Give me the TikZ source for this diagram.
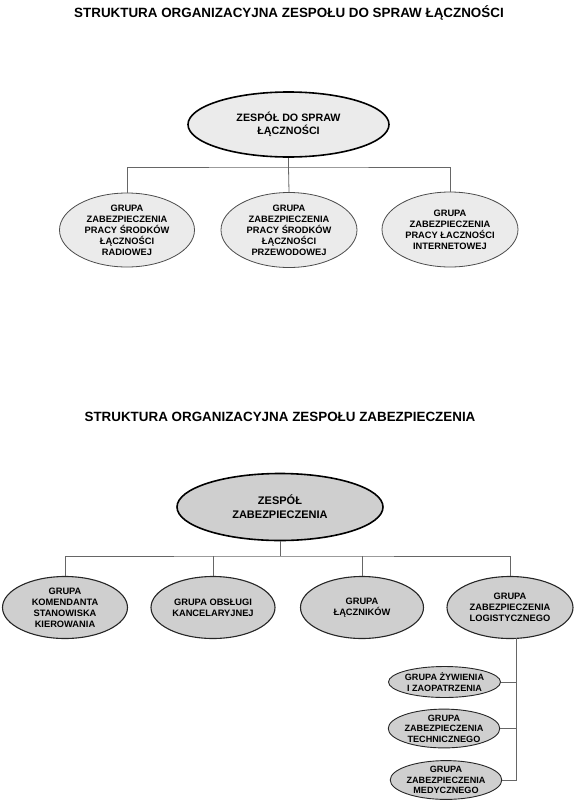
\documentclass[tikz,border=0pt]{standalone}
\usepackage{fontspec}
\setmainfont{Liberation Sans}
\usetikzlibrary{shapes.geometric}

\begin{document}
\begin{tikzpicture}[x=1pt,y=-1pt]
\tikzstyle{title}=[font=\fontsize{13.4}{15}\selectfont\bfseries]
\tikzstyle{light}=[ellipse,draw=black!70,line width=0.8pt,fill=black!8,inner sep=0pt,align=center,font=\fontsize{9.3}{11}\selectfont\bfseries]
\tikzstyle{lighttop}=[light,draw=black,line width=1.6pt,font=\fontsize{10.7}{12.5}\selectfont\bfseries]
\tikzstyle{dark}=[ellipse,draw=black!85,line width=1.1pt,fill=black!19,inner sep=0pt,align=center,font=\fontsize{9.3}{11}\selectfont\bfseries]
\tikzstyle{darktop}=[dark,draw=black,line width=1.6pt,font=\fontsize{11}{14}\selectfont\bfseries]
\tikzstyle{darksmall}=[dark,line width=0.9pt,font=\fontsize{9.1}{10.5}\selectfont\bfseries]
\tikzstyle{link}=[draw=black!60,line width=0.8pt]
\useasboundingbox (0,0) rectangle (580,804);
% first chart
\node[title] (T_1) at (289,13) {STRUKTURA ORGANIZACYJNA ZESPOŁU DO SPRAW ŁĄCZNOŚCI};
\node[lighttop,minimum width=201pt,minimum height=65pt] (Z_1) at (288.5,124.5) {ZESPÓŁ DO SPRAW\\ŁĄCZNOŚCI};
\node[light,minimum width=135pt,minimum height=74pt] (G_1) at (127,230) {GRUPA\\ZABEZPIECZENIA\\PRACY ŚRODKÓW\\ŁĄCZNOŚCI\\RADIOWEJ};
\node[light,minimum width=136pt,minimum height=75pt] (G_2) at (289,230) {GRUPA\\ZABEZPIECZENIA\\PRACY ŚRODKÓW\\ŁĄCZNOŚCI\\PRZEWODOWEJ};
\node[light,minimum width=136pt,minimum height=75pt] (G_3) at (450,229.5) {GRUPA\\ZABEZPIECZENIA\\PRACY ŁACZNOŚCI\\INTERNETOWEJ};
\coordinate (B_1) at (288.5,167);
\draw[link] (Z_1.south) -- (B_1);
\draw[link] (B_1) -- (G_2.north);
\draw[link] (G_1.north) |- (B_1) -| (G_3.north);
% second chart
\node[title] (T_2) at (280,417) {STRUKTURA ORGANIZACYJNA ZESPOŁU ZABEZPIECZENIA};
\node[darktop,minimum width=206pt,minimum height=67pt] (Z_2) at (280,507) {ZESPÓŁ\\ZABEZPIECZENIA};
\node[dark,minimum width=125pt,minimum height=62pt] (H_1) at (65,607.5) {GRUPA\\KOMENDANTA\\STANOWISKA\\KIEROWANIA};
\node[dark,minimum width=124pt,minimum height=62pt] (H_2) at (213,607.5) {GRUPA OBSŁUGI\\KANCELARYJNEJ};
\node[dark,minimum width=123pt,minimum height=62pt] (H_3) at (362,607.5) {GRUPA\\ŁĄCZNIKÓW};
\node[dark,minimum width=126pt,minimum height=62pt] (H_4) at (510,607.5) {GRUPA\\ZABEZPIECZENIA\\LOGISTYCZNEGO};
\node[darksmall,minimum width=104pt,minimum height=31pt] (S_1) at (444.5,682) {GRUPA ŻYWIENIA\\I ZAOPATRZENIA};
\node[darksmall,minimum width=105pt,minimum height=37pt] (S_2) at (444,728.5) {GRUPA\\ZABEZPIECZENIA\\TECHNICZNEGO};
\node[darksmall,minimum width=99pt,minimum height=36pt] (S_3) at (446,780) {GRUPA\\ZABEZPIECZENIA\\MEDYCZNEGO};
\coordinate (B_2) at (280,556);
\coordinate (V_0) at (516,638);
\draw[link] (Z_2.south) -- (B_2);
\draw[link] (H_1.north) |- (B_2) -| (H_4.north);
\draw[link] (H_2.north) -- (H_2.north |- B_2);
\draw[link] (H_3.north) -- (H_3.north |- B_2);
\draw[link] (V_0) |- (S_3.east);
\draw[link] (S_1.east) -- (S_1.east -| V_0);
\draw[link] (S_2.east) -- (S_2.east -| V_0);
\end{tikzpicture}
\end{document}
